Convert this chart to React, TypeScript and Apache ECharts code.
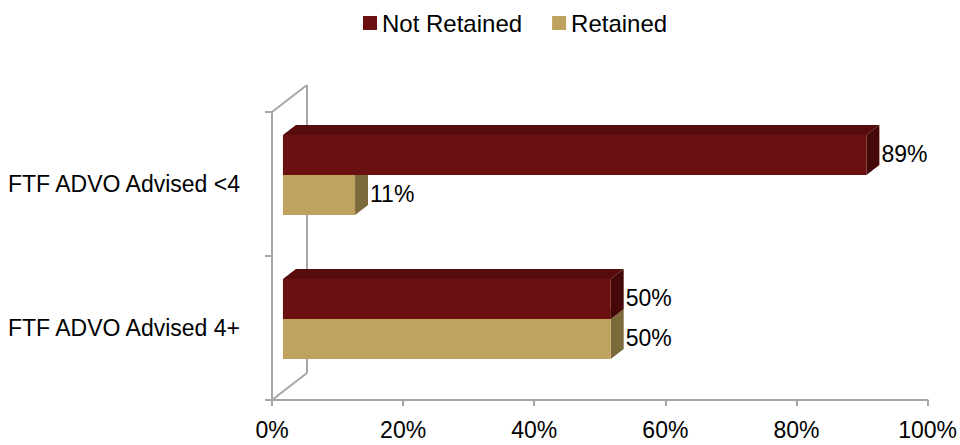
import React, { useEffect, useRef } from "react";
import * as echarts from "echarts";

const categories = ["FTF ADVO Advised <4", "FTF ADVO Advised 4+"];
const seriesNames = ["Not Retained", "Retained"];
const notRetained = [89, 50];
const retained = [11, 50];
const xTicks = [0, 20, 40, 60, 80, 100];

const FONT = "'Liberation Sans', Arial, sans-serif";
const GRID = { left: 272, right: 30, top: 112, bottom: 45 };

const COLORS = {
  nr: { front: "#6B1011", top: "#560C0D", side: "#460909" },
  r: { front: "#BFA25E", top: "#A88F50", side: "#7B6A3B" },
};

function makeRenderer(slot: number, pal: { front: string; top: string; side: string }) {
  return (params: any, api: any) => {
    const v = api.value(0);
    const cat = api.value(1);
    const band = api.size([0, 1])[1];
    const [x0a, yc] = api.coord([0, cat]);
    const xv = api.coord([v, cat])[0];
    const shift = band * 0.076;
    const x0 = x0a + shift;
    const x1 = xv + shift;
    const h = band * 0.278;
    const top = yc - band * 0.34 + slot * h;
    const bot = top + h;
    const dx = band * 0.09;
    const dy = band * 0.07;
    const children: any[] = [
      {
        type: "polygon",
        shape: { points: [[x0, top], [x0 + dx, top - dy], [x1 + dx, top - dy], [x1, top]] },
        style: { fill: pal.top },
      },
      {
        type: "polygon",
        shape: { points: [[x1, top], [x1 + dx, top - dy], [x1 + dx, bot - dy], [x1, bot]] },
        style: { fill: pal.side },
      },
      {
        type: "rect",
        shape: { x: x0, y: top, width: x1 - x0, height: h },
        style: { fill: pal.front },
      },
      {
        type: "text",
        style: {
          text: v + "%",
          x: x1 + dx + 2,
          y: (top + bot) / 2 - 1,
          verticalAlign: "middle",
          align: "left",
          fill: "#000",
          font: `23px ${FONT}`,
        },
      },
    ];
    return { type: "group", children };
  };
}

export default function App() {
  const ref = useRef<HTMLDivElement>(null);
  useEffect(() => {
    if (!ref.current) return;
    const chart = echarts.init(ref.current, undefined, { renderer: "svg" });
    const wallDx = 35;
    const wallDy = 27;
    const gx = GRID.left;
    const gTop = GRID.top;
    const gBot = 445 - GRID.bottom;
    const lineStyle = { stroke: "#A6A6A6", lineWidth: 2 };
    chart.setOption({
      animation: false,
      textStyle: { fontFamily: FONT },
      legend: {
        data: seriesNames,
        top: 6,
        left: 358,
        icon: "rect",
        itemWidth: 14,
        itemHeight: 14,
        itemGap: 30,
        textStyle: { fontSize: 24, color: "#000", fontFamily: FONT },
      },
      grid: { ...GRID },
      xAxis: {
        type: "value",
        min: 0,
        max: 100,
        interval: 20,
        axisLine: { show: true, lineStyle: { color: "#A6A6A6", width: 2 } },
        axisTick: { show: true, length: 6, lineStyle: { color: "#A6A6A6", width: 2 } },
        splitLine: { show: false },
        axisLabel: {
          formatter: (v: number) => (xTicks.includes(v) ? v + "%" : ""),
          fontSize: 23,
          color: "#000",
          margin: 18,
          fontFamily: FONT,
        },
      },
      yAxis: {
        type: "category",
        data: categories,
        inverse: true,
        axisLine: { show: true, lineStyle: { color: "#A6A6A6", width: 2 } },
        axisTick: { show: true, length: 7, lineStyle: { color: "#A6A6A6", width: 2 } },
        axisLabel: { fontSize: 23, color: "#000", margin: 32, fontFamily: FONT },
      },
      graphic: [
        { type: "line", shape: { x1: gx, y1: gTop, x2: gx + wallDx, y2: gTop - wallDy }, style: lineStyle },
        { type: "line", shape: { x1: gx + wallDx, y1: gTop - wallDy, x2: gx + wallDx, y2: gBot - wallDy }, style: lineStyle },
        { type: "line", shape: { x1: gx, y1: gBot, x2: gx + wallDx, y2: gBot - wallDy }, style: lineStyle },
      ],
      series: [
        {
          name: "Retained",
          type: "custom",
          itemStyle: { color: COLORS.r.front },
          renderItem: makeRenderer(1, COLORS.r),
          data: retained.map((v, i) => [v, i]),
          encode: { x: 0, y: 1 },
          z: 3,
        },
        {
          name: "Not Retained",
          type: "custom",
          itemStyle: { color: COLORS.nr.front },
          renderItem: makeRenderer(0, COLORS.nr),
          data: notRetained.map((v, i) => [v, i]),
          encode: { x: 0, y: 1 },
          z: 4,
        },
      ],
    });
    return () => chart.dispose();
  }, []);
  return (
    <div
      ref={ref}
      style={{ position: "fixed", left: 0, top: 0, width: 960, height: 445, background: "#fff" }}
    />
  );
}
